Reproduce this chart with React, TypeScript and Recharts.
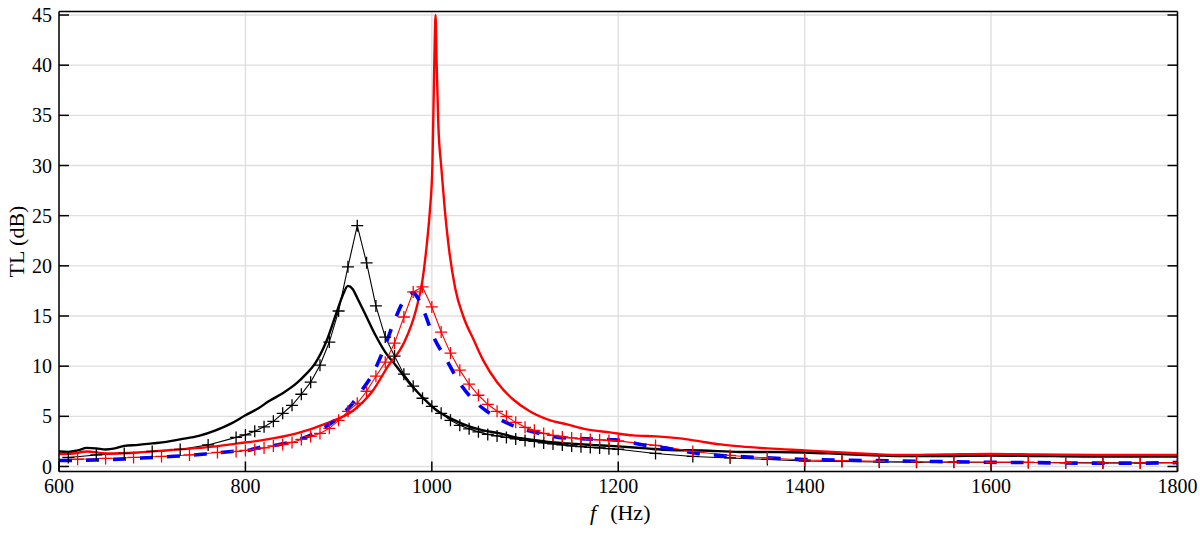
import React from "react";
import {
  LineChart,
  Line,
  XAxis,
  YAxis,
  CartesianGrid,
} from "recharts";

// black thin line with + markers
const blackMarkF = [
  610, 640, 670, 700, 730, 760, 790, 800, 810, 820, 830, 840, 850, 860, 870, 880,
  890, 900, 910, 920, 930, 940, 950, 960, 970, 980, 990, 1000, 1010, 1020, 1030,
  1040, 1050, 1060, 1070, 1080, 1090, 1100, 1110, 1120, 1130, 1140, 1150, 1160,
  1170, 1180, 1190, 1200, 1240, 1280, 1320, 1360, 1400, 1440, 1480, 1520, 1560,
  1600, 1640, 1680, 1720, 1760, 1800,
];
const blackMarkTL = [
  0.9, 1.15, 1.3, 1.5, 1.7, 2.15, 2.9, 3.15, 3.5, 3.95, 4.5, 5.3, 6.1, 7.2, 8.4, 10.1,
  12.4, 15.5, 19.9, 24.0, 20.3, 16.0, 12.9, 11.0, 9.2, 8.0, 6.8, 6.0, 5.3, 4.6, 4.1,
  3.75, 3.45, 3.2, 3.05, 2.9, 2.75, 2.6, 2.5, 2.35, 2.25, 2.15, 2.05, 1.97,
  1.9, 1.85, 1.78, 1.72, 1.3, 1.0, 0.85, 0.7, 0.55, 0.5, 0.45, 0.42, 0.42,
  0.42, 0.4, 0.38, 0.36, 0.36, 0.38,
];

// black thick line
const blackF = [
  600, 610, 620, 630, 640, 650, 660, 670, 685, 700, 715, 730, 750, 768, 785, 800,
  814, 825, 840, 855, 865, 875, 887, 898, 905, 910, 915, 920, 930, 940, 950, 962,
  976, 990, 1005, 1020, 1040, 1055, 1073, 1090, 1109, 1125, 1145, 1170, 1200, 1230,
  1255, 1290, 1330, 1370, 1400, 1440, 1480, 1500, 1550, 1600, 1650, 1700, 1750, 1800,
];
const blackTL = [
  1.5, 1.45, 1.6, 1.85, 1.8, 1.7, 1.8, 2.05, 2.15, 2.3, 2.45, 2.7, 3.05, 3.6, 4.3, 5.1,
  5.8, 6.5, 7.3, 8.3, 9.2, 10.3, 12.5, 15.4, 17.2, 18.0, 17.7, 16.8, 14.9, 13.0, 11.4, 10.0,
  8.3, 6.9, 5.6, 4.8, 4.0, 3.6, 3.3, 2.9, 2.65, 2.45, 2.3, 2.15, 2.0, 1.8,
  1.65, 1.6, 1.45, 1.45, 1.4, 1.25, 1.1, 1.05, 1.05, 1.1, 1.05, 1.0, 1.0, 1.0,
];

// red thin line with + markers
const redMarkF = [
  620, 650, 680, 710, 740, 770, 790, 800, 810, 820, 830, 840, 850, 860, 870, 880,
  890, 900, 910, 920, 930, 940, 950, 960, 970, 980, 990, 1000, 1010, 1020, 1030,
  1040, 1050, 1060, 1070, 1080, 1090, 1100, 1110, 1120, 1130, 1140, 1150, 1160,
  1170, 1180, 1190, 1200, 1240, 1280, 1320, 1360, 1400, 1440, 1480, 1520, 1560,
  1600, 1640, 1680, 1720, 1760, 1800,
];
const redMarkTL = [
  0.72, 0.8, 0.9, 1.0, 1.15, 1.4, 1.5, 1.6, 1.7, 1.85, 2.05, 2.2, 2.4, 2.7, 3.0, 3.3,
  3.8, 4.6, 5.5, 6.3, 7.5, 9.0, 10.4, 12.3, 14.9, 17.4, 17.9, 15.9, 13.4, 11.3, 9.6,
  8.2, 7.1, 6.2, 5.5, 5.0, 4.4, 3.9, 3.6, 3.3, 3.1, 2.95, 2.85, 2.75,
  2.7, 2.65, 2.6, 2.55, 2.1, 1.5, 1.1, 0.85, 0.65, 0.58, 0.52, 0.47, 0.44,
  0.42, 0.4, 0.37, 0.35, 0.35, 0.38,
];

// red thick line
const redF = [
  600, 615, 630, 650, 685, 720, 757, 792, 820, 855, 887, 916, 937, 953, 970, 983,
  990, 995, 998, 1000.6, 1002.6, 1004, 1005.2, 1007, 1010, 1014, 1018, 1025, 1034,
  1045, 1055, 1070, 1087, 1105, 1127, 1145, 1166, 1191, 1216, 1241, 1266, 1288,
  1310, 1331, 1360, 1400, 1450, 1500, 1550, 1600, 1650, 1713, 1800,
];
const redTL = [
  1.25, 1.3, 1.5, 1.3, 1.4, 1.65, 1.9, 2.3, 2.65, 3.3, 4.3, 5.6, 7.6, 10.0, 12.3, 15.6,
  18.6, 22.5, 25.6, 30.0, 40.0, 45.0, 40.0, 34.0, 30.0, 25.5, 22.0, 17.8, 14.9,
  12.6, 10.6, 8.4, 6.7, 5.5, 4.6, 4.2, 3.7, 3.4, 3.1, 3.0, 2.8, 2.5,
  2.2, 2.0, 1.8, 1.6, 1.35, 1.15, 1.2, 1.25, 1.2, 1.15, 1.15,
];

// blue dashed line
const blueF = [
  600, 640, 670, 700, 730, 757, 785, 805, 815, 831, 855, 880, 900, 915, 925, 937,
  948, 959, 969, 975, 980, 985, 991, 1002, 1016, 1030, 1045, 1059, 1075, 1095,
  1115, 1136, 1166, 1197, 1227, 1257, 1286, 1318, 1350, 1400, 1450, 1500, 1550,
  1600, 1650, 1700, 1750, 1800,
];
const blueTL = [
  0.6, 0.65, 0.75, 0.9, 1.05, 1.25, 1.5, 1.65, 1.9, 2.1, 2.6, 3.6, 4.9, 6.3, 7.6, 9.3,
  11.6, 14.3, 16.4, 17.1, 17.3, 16.8, 15.6, 12.9, 10.6, 8.3, 6.6, 5.5, 4.6, 3.8,
  3.3, 2.9, 2.75, 2.65, 2.15, 1.75, 1.3, 1.05, 0.9, 0.7, 0.62, 0.55, 0.48,
  0.42, 0.38, 0.33, 0.33, 0.4,
];

const xTicks = [600, 800, 1000, 1200, 1400, 1600, 1800];
const yTicks = [0, 5, 10, 15, 20, 25, 30, 35, 40, 45];

const FONT = "Liberation Serif";

const toRows = (f: number[], tl: number[]) => f.map((v, i) => ({ f: v, tl: tl[i] }));

function Plus(props: any) {
  const { cx, cy, stroke } = props;
  if (cx == null || cy == null) return null;
  return (
    <path
      d={`M${cx - 6},${cy}H${cx + 6}M${cx},${cy - 6}V${cy + 6}`}
      stroke={stroke}
      strokeWidth={1.3}
      fill="none"
    />
  );
}

function XTitle(props: any) {
  const vb = props.viewBox;
  return (
    <text
      x={vb.x + vb.width / 2 + 2}
      y={vb.y + 48}
      textAnchor="middle"
      fontFamily={FONT}
      fontSize={22}
      fill="#000"
    >
      <tspan fontStyle="italic">f</tspan>
      <tspan dx={14}>(Hz)</tspan>
    </text>
  );
}

function YTitle(props: any) {
  const vb = props.viewBox;
  const x = 16;
  const y = vb.y + vb.height / 2;
  return (
    <text
      x={x}
      y={y}
      transform={`rotate(-90, ${x}, ${y})`}
      textAnchor="middle"
      dominantBaseline="central"
      fontFamily={FONT}
      fontSize={22}
      fill="#000"
    >
      TL (dB)
    </text>
  );
}

export default function App() {
  const tickStyle = { fill: "#000", fontSize: 20, fontFamily: FONT };
  return (
    <div style={{ position: "absolute", left: 0, top: 0, background: "#fff" }}>
      <LineChart
        width={1200}
        height={537}
        margin={{ top: 10.5, right: 21.5, bottom: 0, left: 0 }}
      >
        <CartesianGrid stroke="#dedede" strokeWidth={1.3} />
        <XAxis
          type="number"
          dataKey="f"
          domain={[600, 1800]}
          ticks={xTicks}
          height={65.5}
          tickSize={-10}
          tickMargin={17.5}
          tick={tickStyle}
          stroke="#000"
          strokeWidth={1.5}
          allowDataOverflow
          label={{ content: XTitle }}
        />
        <XAxis
          xAxisId="top"
          orientation="top"
          type="number"
          domain={[600, 1800]}
          ticks={xTicks}
          height={1}
          tickSize={-10}
          tickFormatter={() => ""}
          stroke="#000"
          strokeWidth={1.5}
          allowDataOverflow
        />
        <YAxis
          type="number"
          domain={[-0.5, 45.35]}
          ticks={yTicks}
          width={59}
          tickSize={-10}
          tickMargin={17}
          tick={tickStyle}
          stroke="#000"
          strokeWidth={1.5}
          allowDataOverflow
          label={{ content: YTitle }}
        />
        <YAxis
          yAxisId="right"
          orientation="right"
          type="number"
          domain={[-0.5, 45.35]}
          ticks={yTicks}
          width={1}
          tickSize={-10}
          tickFormatter={() => ""}
          stroke="#000"
          strokeWidth={1.5}
          allowDataOverflow
        />
        <Line
          data={toRows(blackMarkF, blackMarkTL)}
          dataKey="tl"
          type="linear"
          stroke="#000"
          strokeWidth={1.1}
          dot={<Plus />}
          isAnimationActive={false}
        />
        <Line
          data={toRows(blackF, blackTL)}
          dataKey="tl"
          type="monotone"
          stroke="#000"
          strokeWidth={2.4}
          dot={false}
          isAnimationActive={false}
        />
        <Line
          data={toRows(redMarkF, redMarkTL)}
          dataKey="tl"
          type="linear"
          stroke="#ff0000"
          strokeWidth={1.1}
          dot={<Plus />}
          isAnimationActive={false}
        />
        <Line
          data={toRows(redF, redTL)}
          dataKey="tl"
          type="monotone"
          stroke="#ff0000"
          strokeWidth={2.4}
          dot={false}
          isAnimationActive={false}
        />
        <Line
          data={toRows(blueF, blueTL)}
          dataKey="tl"
          type="monotone"
          stroke="#0000ff"
          strokeWidth={3.6}
          strokeDasharray="13 14"
          dot={false}
          isAnimationActive={false}
        />
      </LineChart>
    </div>
  );
}
